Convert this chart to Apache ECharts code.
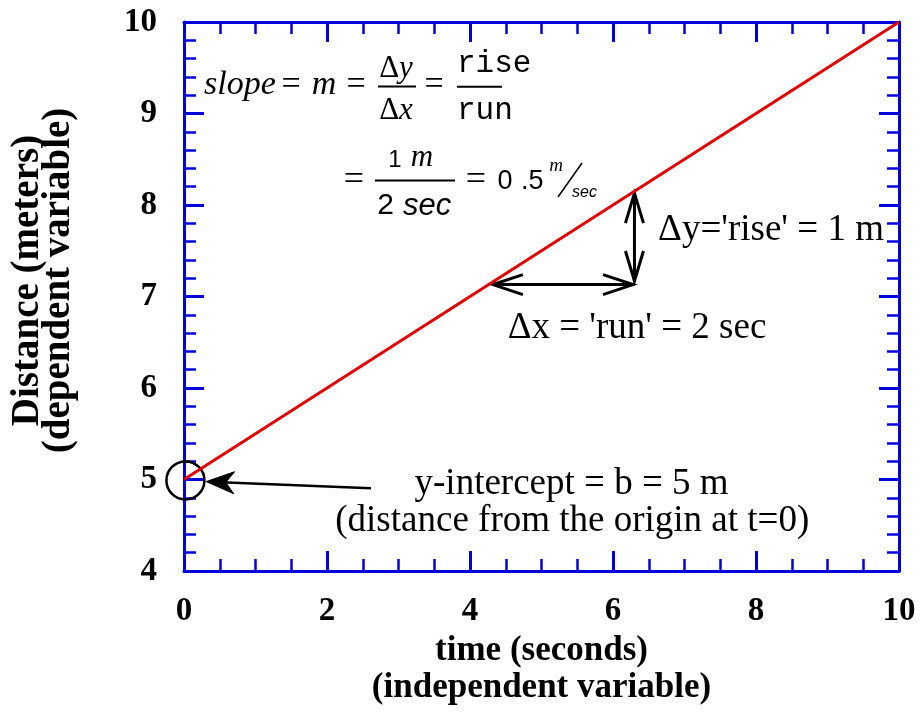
<!DOCTYPE html>
<html><head><meta charset="utf-8">
<script src="https://cdn.jsdelivr.net/npm/echarts@6/dist/echarts.min.js"></script>
<style>html,body{margin:0;padding:0;background:#fff}#c{width:920px;height:713px}</style>
</head><body><div id="c"></div>
<script>
// ---- data ----
const xRange = [0, 10];
const yRange = [4, 10];
const lineX = [0, 10];
const lineY = [5, 10];
const runArrow = [[4.32, 7.13], [6.28, 7.13]];
const riseArrow = [[6.30, 8.13], [6.30, 7.17]];
const interceptArrow = [[2.615, 4.905], [0.31, 4.977]];
const interceptCircle = [0.02, 4.99];
const noteTexts = ["Δy='rise' = 1 m", "Δx = 'run' = 2 sec", "y-intercept = b = 5 m", "(distance from the origin at t=0)"];
const notePos = [[8.21, 7.727], [6.336, 6.656], [5.42, 4.951], [5.43, 4.546]];

const BLUE = '#0000dd';
const SERIF = '"Liberation Serif", "Times New Roman", serif';
const MONO = '"Liberation Mono", "Courier New", monospace';
const SANS = '"Liberation Sans", Arial, sans-serif';

const chart = echarts.init(document.getElementById('c'), null, {renderer: 'canvas'});

function axisCommon(showLabel, minorSplit) {
  return {
    type: 'value',
    axisLine: {show: true, onZero: false, lineStyle: {color: BLUE, width: 3}},
    axisTick: {show: true, inside: true, length: 20, lineStyle: {color: BLUE, width: 3}},
    minorTick: {show: true, splitNumber: minorSplit, length: 12, lineStyle: {color: BLUE, width: 2.5}},
    splitLine: {show: false},
    minorSplitLine: {show: false},
    axisLabel: {show: showLabel, color: '#000', fontFamily: SERIF, fontWeight: 'bold', fontSize: 33,
      showMinLabel: true, showMaxLabel: true}
  };
}

const pts = lineX.map((x, i) => [x, lineY[i]]);

function sub(a, b) { return [a[0] - b[0], a[1] - b[1]]; }
function norm(v) { const l = Math.hypot(v[0], v[1]); return [v[0] / l, v[1] / l]; }
function chevron(tip, from, L, W) {
  const u = norm(sub(from, tip)); const n = [-u[1], u[0]];
  return {type: 'polyline', shape: {points: [
    [tip[0] + u[0] * L + n[0] * W, tip[1] + u[1] * L + n[1] * W], tip,
    [tip[0] + u[0] * L - n[0] * W, tip[1] + u[1] * L - n[1] * W]]},
    style: {stroke: '#000', lineWidth: 3, fill: null}};
}
function filledHead(tip, from, L, W) {
  const u = norm(sub(from, tip)); const n = [-u[1], u[0]];
  return {type: 'polygon', shape: {points: [tip,
    [tip[0] + u[0] * L + n[0] * W, tip[1] + u[1] * L + n[1] * W],
    [tip[0] + u[0] * L * 0.7, tip[1] + u[1] * L * 0.7],
    [tip[0] + u[0] * L - n[0] * W, tip[1] + u[1] * L - n[1] * W]]},
    style: {fill: '#000', stroke: '#000', lineWidth: 1}};
}
function seg(a, b, w) {
  return {type: 'line', shape: {x1: a[0], y1: a[1], x2: b[0], y2: b[1]}, style: {stroke: '#000', lineWidth: w}};
}

function renderNotes(params, api) {
  const P = p => api.coord(p);
  const ch = [];
  const r0 = P(runArrow[0]), r1 = P(runArrow[1]);
  ch.push(seg(r0, r1, 3), chevron(r0, r1, 30, 10), chevron(r1, r0, 30, 10));
  const v0 = P(riseArrow[0]), v1 = P(riseArrow[1]);
  ch.push(seg(v0, v1, 3), chevron(v0, v1, 30, 9), chevron(v1, v0, 30, 9));
  const c = P(interceptCircle);
  ch.push({type: 'circle', shape: {cx: c[0], cy: c[1], r: 19}, style: {fill: null, stroke: '#000', lineWidth: 2.5}});
  const i0 = P(interceptArrow[0]), i1 = P(interceptArrow[1]);
  const u = norm(sub(i0, i1));
  ch.push(seg(i0, [i1[0] + u[0] * 15, i1[1] + u[1] * 15], 2.5), filledHead(i1, i0, 28, 11));
  noteTexts.forEach((t, k) => {
    const p = P(notePos[k]);
    ch.push({type: 'text', x: p[0], y: p[1], style: {text: t, fill: '#000', font: '37px ' + SERIF, align: 'center', verticalAlign: 'middle'}});
  });
  return {type: 'group', children: ch};
}

function txt(text, x, y, font, align) {
  return {type: 'text', x: x, y: y, silent: true, style: {text: text, font: font, fill: '#000', align: align || 'center', verticalAlign: 'middle'}};
}
function gline(x1, y1, x2, y2, w) {
  return {type: 'line', silent: true, shape: {x1, y1, x2, y2}, style: {stroke: '#000', lineWidth: w}};
}

const formula = [
  txt('slope', 204, 85, 'italic 34px ' + SERIF, 'left'),
  txt('=', 291, 85, '34px ' + SERIF),
  txt('m', 324, 85, 'italic 34px ' + SERIF),
  txt('=', 356, 85, '34px ' + SERIF),
  {type: 'text', x: 396, y: 69, silent: true, style: {text: '{u|Δ}{i|y}', align: 'center', verticalAlign: 'middle', fill: '#000',
    rich: {u: {font: '31px ' + SERIF}, i: {font: 'italic 31px ' + SERIF}}}},
  gline(378, 86.5, 416, 86.5, 2),
  {type: 'text', x: 396, y: 111, silent: true, style: {text: '{u|Δ}{i|x}', align: 'center', verticalAlign: 'middle', fill: '#000',
    rich: {u: {font: '31px ' + SERIF}, i: {font: 'italic 31px ' + SERIF}}}},
  txt('=', 434, 85, '34px ' + SERIF),
  txt('rise', 457, 64, '31px ' + MONO, 'left'),
  gline(457, 86.7, 502, 86.7, 2),
  txt('run', 457, 111, '31px ' + MONO, 'left'),
  txt('=', 354, 180.5, '36px ' + SERIF),
  txt('1', 395, 160, '24px ' + SANS),
  txt('m', 422, 158, 'italic 31px ' + SERIF),
  gline(375, 180.5, 455, 180.5, 2),
  txt('2', 385.5, 206, '30px ' + SANS),
  txt('sec', 403, 206, 'italic 31px ' + SANS, 'left'),
  txt('=', 476, 180.5, '36px ' + SERIF),
  txt('0', 505, 182, '27px ' + SANS),
  txt('.5', 521, 182, '27px ' + SANS, 'left'),
  txt('m', 556, 166, 'italic 19px ' + SERIF),
  gline(558, 197, 582, 163, 1.5),
  txt('sec', 572, 192.5, 'italic 16px ' + SANS, 'left')
];

const xBottom = Object.assign(axisCommon(true, 4), {
  min: xRange[0], max: xRange[1], interval: 2, position: 'bottom',
  name: 'time (seconds)\n(independent variable)', nameLocation: 'middle', nameGap: 55,
  nameTextStyle: {color: '#000', fontFamily: SERIF, fontWeight: 'bold', fontSize: 35, lineHeight: 37}
});
xBottom.axisLabel.margin = 24;
const xTop = Object.assign(axisCommon(false, 4), {min: xRange[0], max: xRange[1], interval: 2, position: 'top'});
const yLeft = Object.assign(axisCommon(true, 5), {
  min: yRange[0], max: yRange[1], interval: 1, position: 'left',
  name: 'Distance (meters)\n(dependent variable)', nameLocation: 'middle', nameGap: 110,
  nameTextStyle: {color: '#000', fontFamily: SERIF, fontWeight: 'bold', fontSize: 39, lineHeight: 31, padding: [0, 0, 0, 32]}
});
yLeft.axisLabel.margin = 27;
const yRight = Object.assign(axisCommon(false, 5), {min: yRange[0], max: yRange[1], interval: 1, position: 'right'});

chart.setOption({
  animation: false,
  backgroundColor: '#fff',
  grid: {left: 183, right: 21, top: 22, bottom: 142},
  xAxis: [xBottom, xTop],
  yAxis: [yLeft, yRight],
  graphic: {elements: formula},
  series: [
    {type: 'custom', coordinateSystem: 'cartesian2d', xAxisIndex: 0, yAxisIndex: 0, silent: true, clip: false,
      data: [[0, 5]], renderItem: renderNotes, z: 3},
    {type: 'line', data: pts, xAxisIndex: 0, yAxisIndex: 0, showSymbol: false, symbol: 'none',
      lineStyle: {color: '#e00000', width: 3}, z: 4}
  ]
});
</script>
</body></html>
